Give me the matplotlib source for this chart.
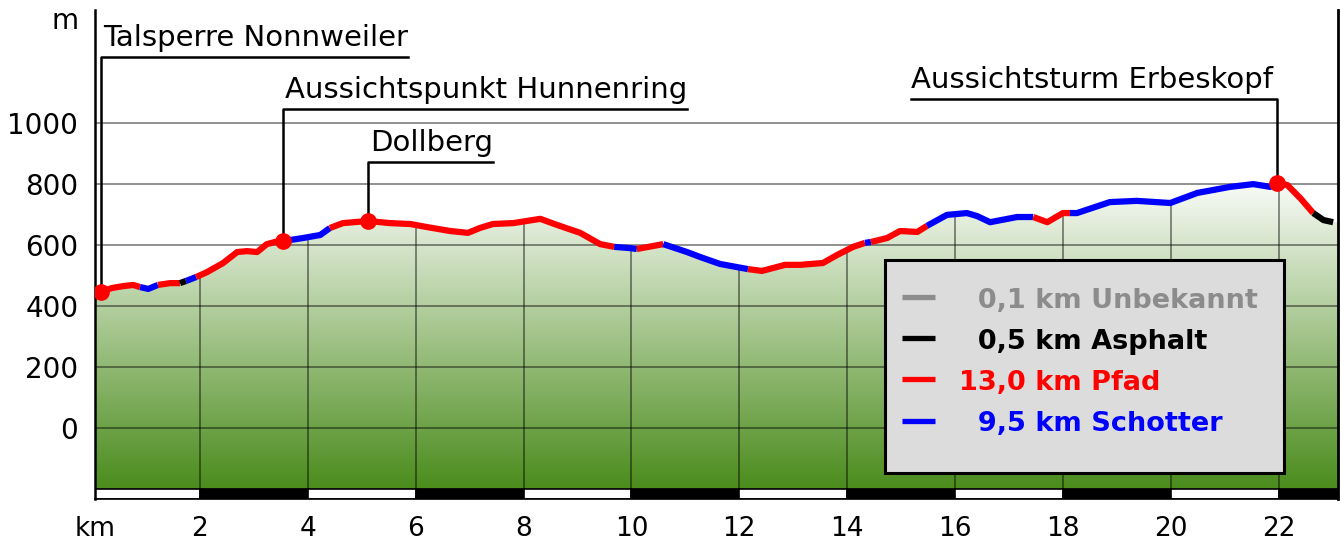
import numpy as np
import matplotlib
matplotlib.use('Agg')
import matplotlib.pyplot as plt
from matplotlib.colors import LinearSegmentedColormap
from matplotlib.patches import Polygon, Rectangle
from matplotlib.transforms import offset_copy, blended_transform_factory

# Höhenprofil: Strecke (km), Höhe (m), Belag ab diesem Punkt
km = [0.05, 0.17, 0.37, 0.57, 0.76, 0.89, 1.04, 1.22, 1.45, 1.63,
      1.74, 1.93, 2.13, 2.43, 2.69, 2.87, 3.06, 3.24, 3.39, 3.54,
      3.91, 4.23, 4.41, 4.65, 5.12, 5.52, 5.90, 6.21, 6.64, 6.97,
      7.19, 7.43, 7.81, 8.31, 8.62, 9.05, 9.42, 9.68, 9.97, 10.10,
      10.59, 11.03, 11.27, 11.64, 12.16, 12.42, 12.85, 13.13, 13.55, 13.81,
      14.11, 14.33, 14.44, 14.74, 14.98, 15.30, 15.48, 15.85, 16.22, 16.41,
      16.65, 17.15, 17.45, 17.71, 18.00, 18.13, 18.26, 18.87, 19.37, 19.99,
      20.49, 21.10, 21.53, 21.84, 21.97, 22.16, 22.40, 22.64, 22.83, 23.01]
hoehe = [443, 447, 459, 465, 469, 462, 456, 469, 475, 475,
         482, 495, 511, 541, 577, 580, 577, 603, 610, 613,
         623, 633, 656, 672, 679, 672, 669, 659, 646, 640,
         656, 669, 672, 686, 666, 640, 603, 594, 590, 587,
         603, 577, 561, 538, 521, 515, 535, 535, 541, 567,
         594, 607, 610, 623, 646, 643, 663, 699, 705, 695,
         675, 692, 692, 675, 705, 705, 705, 741, 745, 738,
         771, 791, 800, 791, 804, 797, 754, 705, 682, 675]
belag = ['P', 'P', 'P', 'P', 'P', 'S', 'S', 'P', 'P', 'A',
         'S', 'P', 'P', 'P', 'P', 'P', 'P', 'P', 'P', 'S',
         'S', 'S', 'P', 'P', 'P', 'P', 'P', 'P', 'P', 'P',
         'P', 'P', 'P', 'P', 'P', 'P', 'P', 'S', 'S', 'P',
         'S', 'S', 'S', 'S', 'P', 'P', 'P', 'P', 'P', 'P',
         'P', 'S', 'P', 'P', 'P', 'P', 'S', 'S', 'S', 'S',
         'S', 'S', 'P', 'P', 'P', 'S', 'S', 'S', 'S', 'S',
         'S', 'S', 'S', 'S', 'P', 'P', 'P', 'A', 'A', 'A']

# Sehenswürdigkeiten
poi_namen = ['Talsperre Nonnweiler', 'Aussichtspunkt Hunnenring', 'Dollberg',
             'Aussichtsturm Erbeskopf']
poi_km = [0.17, 3.54, 5.12, 21.97]
poi_hoehe = [447, 613, 679, 804]

# Legende
leg_texte = ['\u20070,1 km Unbekannt', '\u20070,5 km Asphalt', '13,0 km Pfad',
             '\u20079,5 km Schotter']
leg_belag = ['U', 'A', 'P', 'S']

farben = {'U': '#8c8c8c', 'A': '#000000', 'P': '#ff0000', 'S': '#0000ff'}

y_ticks = [0, 200, 400, 600, 800, 1000]
x_ticks = list(range(2, 24, 2))

x0, x1 = 0.054, 23.1
y0, y1 = -233.7, 1371.6

fig = plt.figure(figsize=(13.41, 5.45), dpi=100)
ax = fig.add_axes([95 / 1341, 46 / 545, 1243 / 1341, 489 / 545])

# Fläche unter dem Profil mit Farbverlauf (oben weiß, unten grün)
verts = [(x0, -200), (x0, hoehe[0])] + list(zip(km, hoehe)) + [(x1, hoehe[-1]), (x1, -200)]
flaeche = Polygon(verts, closed=True, fc='none', ec='none')
ax.add_patch(flaeche)
cmap = LinearSegmentedColormap.from_list('gruen', ['#ffffff', '#4b8c1c'])
grad = np.linspace(1, 0, 256).reshape(-1, 1)
img = ax.imshow(grad, cmap=cmap, extent=[x0, x1, -200, 840], origin='lower',
                aspect='auto', zorder=1, interpolation='bilinear', vmin=0, vmax=1)
img.set_clip_path(flaeche)
ax.set_xlim(x0, x1)
ax.set_ylim(y0, y1)

# Gitter
for yv in y_ticks + [-200]:
    ax.axhline(yv, color='black', alpha=0.55, lw=1.1, zorder=2)
vl = ax.vlines(x_ticks, -200, 1400, color='black', alpha=0.55, lw=1.1, zorder=2)
vl.set_clip_path(flaeche)

# Maßstabsleiste
for i, xs in enumerate(range(0, 24, 2)):
    ax.add_patch(Rectangle((xs, y0), 2, -200 - y0, fc='black' if i % 2 else 'white',
                           ec='black', lw=1.2, zorder=2))

# Profil-Linie nach Belag
start = 0
for i in range(1, len(km)):
    if i == len(km) - 1 or belag[i] != belag[start]:
        ax.plot(km[start:i + 1], hoehe[start:i + 1], color=farben[belag[start]],
                lw=4.5, solid_capstyle='butt', solid_joinstyle='round', zorder=4)
        start = i

# Beschriftungen der Sehenswürdigkeiten
ebenen = [1217, 1047, 873, 1080]
seiten = ['l', 'l', 'l', 'r']
renderer = fig.canvas.get_renderer()
inv = ax.transData.inverted()
for name, px, py, lev, s in zip(poi_namen, poi_km, poi_hoehe, ebenen, seiten):
    if s == 'l':
        t = ax.text(px, lev, name, ha='left', va='baseline', fontsize=21,
                    transform=offset_copy(ax.transData, fig, x=1.5, y=8, units='points'))
        xe = inv.transform((t.get_window_extent(renderer).x1, 0))[0]
        ax.plot([px, px, xe], [py, lev, lev], color='black', lw=1.8, zorder=3)
    else:
        t = ax.text(px, lev, name, ha='right', va='baseline', fontsize=21,
                    transform=offset_copy(ax.transData, fig, x=-3, y=8, units='points'))
        xs = inv.transform((t.get_window_extent(renderer).x0, 0))[0]
        ax.plot([xs, px, px], [lev, lev, py], color='black', lw=1.8, zorder=3)
ax.plot(poi_km, poi_hoehe, 'o', color='#ff0000', ms=11, zorder=5)

# Legende
ax.add_patch(Rectangle((14.70, -148), 7.40, 699, fc='#dcdcdc', ec='black', lw=2.2, zorder=6))
for j, (txt, b) in enumerate(zip(leg_texte, leg_belag)):
    yb = 393 - 135 * j
    ax.plot([15.02, 15.63], [yb + 36, yb + 36], color=farben[b], lw=3.8,
            solid_capstyle='butt', zorder=7)
    ax.text(16.08, yb, txt, color=farben[b], fontsize=19.5, fontweight='bold',
            ha='left', va='baseline', zorder=7)

# Achsen
ax.set_xticks(x_ticks)
ax.set_yticks(y_ticks)
ax.tick_params(length=0, labelsize=20)
ax.tick_params(axis='y', pad=12)
ax.tick_params(axis='x', pad=12, labelsize=19)
ax.spines['top'].set_visible(False)
ax.spines['left'].set_linewidth(1.8)
ax.spines['right'].set_linewidth(2.0)
ax.spines['bottom'].set_linewidth(1.2)
ax.text(0, 0, 'km', fontsize=19, ha='center', va='top',
        transform=offset_copy(ax.transAxes, fig, y=-12, units='points'))
ax.text(0, 1310, 'm', fontsize=20, ha='right', va='baseline',
        transform=offset_copy(blended_transform_factory(ax.transAxes, ax.transData),
                              fig, x=-12, units='points'))

fig.savefig('out.png', dpi=100)
